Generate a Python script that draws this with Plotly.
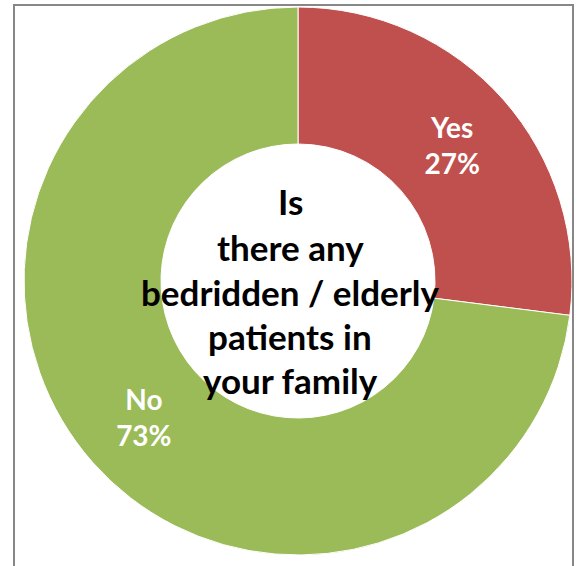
import plotly.graph_objects as go

labels = ["Yes", "No"]
values = [27, 73]
colors = ["#C0504D", "#9BBB59"]
center_lines = ["Is", "there any", "bedridden / elderly", "patients in", "your family"]
center_line_y = [201, 247, 292, 336, 380]  # pixel rows from top

W, H = 579, 566


def px(x):
    return x / W


def py(y):
    return (H - y) / H


fig = go.Figure()
fig.add_trace(go.Pie(
    labels=labels,
    values=values,
    hole=0.5,
    sort=False,
    direction="clockwise",
    rotation=0,
    marker=dict(colors=colors, line=dict(color="white", width=1)),
    texttemplate="%{label}<br>%{percent:.0%}",
    textposition="inside",
    insidetextorientation="horizontal",
    textfont=dict(family="Lato", size=28, color="white", weight="bold"),
    showlegend=False,
    hoverinfo="skip",
    domain=dict(x=[px(24), px(572)], y=[py(555), py(7)]),
))

for line, yp in zip(center_lines, center_line_y):
    fig.add_annotation(
        text=line, x=px(290), y=py(yp), xref="paper", yref="paper",
        xanchor="center", yanchor="middle", showarrow=False,
        font=dict(family="Lato", size=35, color="black", weight="bold"),
    )

fig.add_shape(type="rect", xref="paper", yref="paper",
              x0=px(14), x1=px(573), y0=-0.05, y1=py(5),
              line=dict(color="#878787", width=2), fillcolor="rgba(0,0,0,0)")

fig.update_layout(
    width=W, height=H,
    margin=dict(l=0, r=0, t=0, b=0),
    paper_bgcolor="white",
    plot_bgcolor="white",
)

fig.write_html("out.html", config={"displayModeBar": False},
               post_script="document.body.style.margin='0';document.body.style.overflow='hidden';")
